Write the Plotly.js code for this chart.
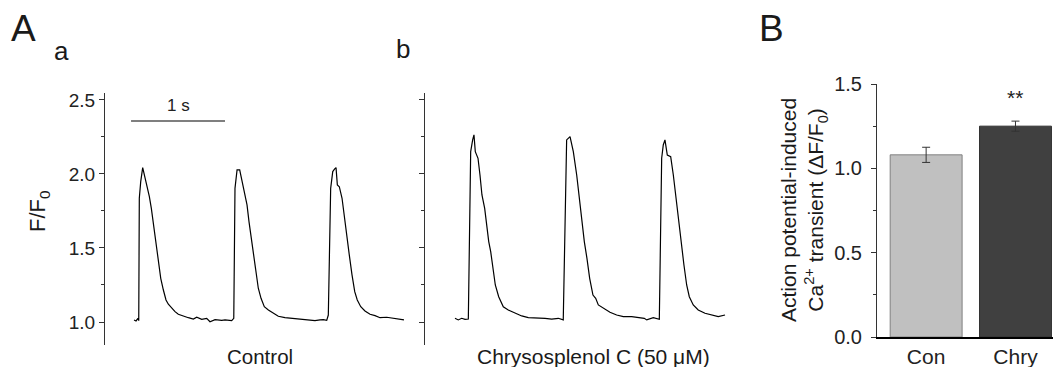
<!DOCTYPE html>
<html>
<head>
<meta charset="utf-8">
<script src="https://cdn.plot.ly/plotly-3.0.1.min.js"></script>
<style>html,body{margin:0;padding:0;background:#fff}#chart{width:1053px;height:367px}</style>
</head>
<body>
<div id="chart"></div>
<script>
// Panel a: Control trace (time in s, F/F0)
const timeA = [0.032,0.053,0.074,0.082,0.088,0.103,0.124,0.138,0.167,0.195,0.216,0.231,0.252,0.273,0.295,0.316,0.344,0.372,0.397,0.433,0.468,0.503,0.556,0.610,0.663,0.699,0.752,0.805,0.840,0.894,0.965,
  1.000,1.071,1.093,1.106,1.128,1.156,1.184,1.213,1.234,1.255,1.284,1.312,1.333,1.354,1.383,1.418,1.461,1.514,1.567,1.638,1.710,1.780,1.869,1.957,2.011,2.046,
  2.082,2.099,2.124,2.146,2.167,2.181,2.195,2.216,2.245,2.266,2.295,2.322,2.351,2.380,2.407,2.444,2.489,2.543,2.596,2.649,2.720,2.790,2.862,2.904];
const valueA = [1.014,1.007,1.025,1.009,1.836,1.948,2.043,2.005,1.926,1.847,1.768,1.701,1.576,1.498,1.385,1.295,1.216,1.149,1.120,1.093,1.070,1.052,1.039,1.029,1.020,1.032,1.018,1.025,1.002,1.016,1.011,
  1.014,1.009,1.025,1.903,2.027,2.027,1.948,1.870,1.791,1.678,1.543,1.407,1.318,1.228,1.160,1.103,1.081,1.059,1.039,1.029,1.025,1.018,1.014,1.009,1.014,1.016,
  1.011,1.047,1.903,2.016,2.034,2.043,1.926,1.914,1.836,1.723,1.588,1.453,1.318,1.205,1.149,1.103,1.074,1.052,1.043,1.029,1.032,1.025,1.020,1.014];

// Panel b: Chrysosplenol C (50 µM) trace
const timeB = [0.053,0.088,0.124,0.160,0.195,0.220,0.241,0.255,0.269,0.298,0.319,0.340,0.369,0.390,0.412,0.433,0.454,0.482,0.518,0.567,0.620,0.691,0.763,0.833,0.922,0.993,1.011,1.082,
  1.152,1.205,1.241,1.277,1.312,1.348,1.372,1.401,1.429,1.457,1.486,1.521,1.550,1.578,1.631,1.702,1.773,1.844,1.933,2.003,2.067,
  2.093,2.163,2.227,2.252,2.269,2.287,2.312,2.348,2.376,2.404,2.433,2.461,2.489,2.518,2.546,2.588,2.641,2.713,2.784,2.854,2.926];
const valueB = [1.025,1.014,1.025,1.018,1.020,2.151,2.230,2.264,2.151,2.106,1.993,1.858,1.768,1.655,1.543,1.475,1.363,1.250,1.171,1.103,1.081,1.059,1.041,1.029,1.029,1.025,1.025,1.020,
  1.025,1.014,2.230,2.252,2.151,1.993,1.858,1.678,1.543,1.430,1.295,1.182,1.160,1.115,1.093,1.066,1.047,1.036,1.036,1.029,1.025,
  1.014,1.029,1.018,2.106,2.196,2.230,2.128,2.117,1.993,1.836,1.678,1.543,1.385,1.250,1.171,1.115,1.081,1.059,1.047,1.036,1.047];

// Panel B: bar summary
const barCategories = ['Con', 'Chry'];
const barValues = [1.08, 1.25];
const barErrors = [0.045, 0.03];
const barColors = ['#c0c0c0', '#404040'];
const barLines = ['#808080', '#303030'];
const scaleBarSeconds = 1;

const FONT = 'Liberation Sans, Arial, sans-serif';
const W = 1053, H = 367;
const px = v => v / W, py = v => 1 - v / H;

const traceStyle = {mode: 'lines', line: {color: '#000', width: 1.2}, hoverinfo: 'skip', showlegend: false};
const data = [
  Object.assign({x: timeA, y: valueA, xaxis: 'x', yaxis: 'y', type: 'scatter'}, traceStyle),
  Object.assign({x: timeB, y: valueB, xaxis: 'x2', yaxis: 'y2', type: 'scatter'}, traceStyle),
  {type: 'bar', x: barCategories, y: barValues, xaxis: 'x3', yaxis: 'y3', width: 0.805,
   marker: {color: barColors, line: {color: barLines, width: 1}},
   error_y: {type: 'data', array: barErrors, visible: true, color: '#333', thickness: 1, width: 4},
   showlegend: false, hoverinfo: 'skip'}
];

const yTrace = {
  range: [0.8446, 2.547], dtick: 0.5, tick0: 0, tickformat: '.1f',
  showline: true, linecolor: '#333', linewidth: 1, ticks: 'outside', ticklen: 5, tickcolor: '#333',
  minor: {dtick: 0.25, ticks: 'outside', ticklen: 3, tickcolor: '#333'},
  showgrid: false, zeroline: false, tickfont: {family: FONT, size: 19, color: '#222'}
};

function note(text, x, y, size, extra) {
  return Object.assign({text: text, x: px(x), y: py(y), xref: 'paper', yref: 'paper', xanchor: 'center', yanchor: 'middle',
    showarrow: false, font: {size: size, family: FONT, color: '#1a1a1a'}}, extra || {});
}

const layout = {
  width: W, height: H, margin: {l: 0, r: 0, t: 0, b: 0},
  paper_bgcolor: '#fff', plot_bgcolor: 'rgba(0,0,0,0)',
  font: {family: FONT, color: '#222'},
  xaxis: {domain: [px(105), px(410)], range: [-0.277, 2.968], visible: false},
  yaxis: Object.assign({}, yTrace, {domain: [1 - 345 / H, 1 - 93 / H], anchor: 'x'}),
  xaxis2: {domain: [px(425), px(730)], range: [-0.266, 2.979], visible: false, anchor: 'y2'},
  yaxis2: Object.assign({}, yTrace, {domain: [1 - 345 / H, 1 - 93 / H], anchor: 'x2', showticklabels: false}),
  xaxis3: {domain: [px(877), 1], range: [-0.55, 1.42], anchor: 'y3', showline: true, linecolor: '#000', linewidth: 2,
    ticks: '', showgrid: false, zeroline: false, tickfont: {family: FONT, size: 21, color: '#222'}},
  yaxis3: {domain: [1 - 337 / H, 1 - 84 / H], range: [0, 1.5], anchor: 'x3', dtick: 0.5, tickformat: '.1f',
    showline: true, linecolor: '#333', linewidth: 1, ticks: 'outside', ticklen: 5, tickcolor: '#333',
    minor: {dtick: 0.25, ticks: 'outside', ticklen: 3, tickcolor: '#333'}, ticklabelstandoff: 5,
    showgrid: false, zeroline: false, tickfont: {family: FONT, size: 20, color: '#222'}},
  shapes: [
    {type: 'line', xref: 'x', yref: 'y', x0: 0, x1: scaleBarSeconds, y0: 2.358, y1: 2.358, line: {color: '#000', width: 1.2}}
  ],
  annotations: [
    note('A', 23, 29, 37),
    note('a', 61, 51, 26),
    note('b', 403, 49, 26),
    note('B', 771, 28, 37),
    {text: '1 s', x: 0.5, y: 2.358, xref: 'x', yref: 'y', xanchor: 'center', yanchor: 'middle', yshift: 15, showarrow: false, font: {size: 17, family: FONT, color: '#222'}},
    note('F/F<sub>0</sub>', 39, 211, 22, {textangle: -90}),
    note('Control', 260, 356, 20.5),
    note('Chrysosplenol C (50 μM)', 593, 356, 21),
    note('Action potential-induced<br>Ca<sup>2+</sup> transient (ΔF/F<sub>0</sub>)', 804, 210, 21, {textangle: -90}),
    {text: '**', x: 'Chry', y: barValues[1] + barErrors[1], xref: 'x3', yref: 'y3', xanchor: 'center', yanchor: 'middle', yshift: 24, showarrow: false, font: {size: 21, family: FONT, color: '#222'}}
  ]
};

Plotly.newPlot('chart', data, layout, {staticPlot: true, displayModeBar: false});
</script>
</body>
</html>
